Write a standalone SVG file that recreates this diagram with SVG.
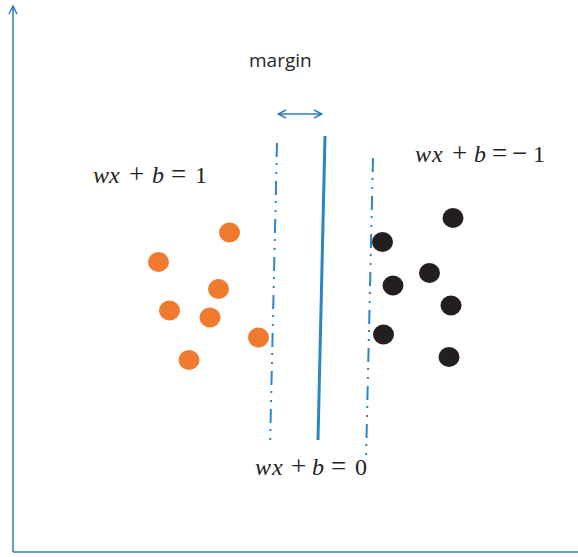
<svg xmlns="http://www.w3.org/2000/svg" width="578" height="557" viewBox="0 0 578 557">
<style>
.ax{stroke:#2e7dc0;stroke-width:1.5;fill:none}
.dd{stroke:#2a86c8;stroke-width:2;fill:none;stroke-dasharray:14 6 2 7 2 7}
.sol{stroke:#2a86c8;stroke-width:3;fill:none}
.o{fill:#f07a2e}
.k{fill:#231f20}
.m{font-family:"Liberation Serif","DejaVu Serif",serif;font-size:24px;fill:#222}
.i{font-style:italic}
.op{font-size:27px}
.lbl{font-family:"Open Sans","Liberation Sans",sans-serif;font-size:19px;fill:#262626}
</style>
<defs>
<marker id="oa" viewBox="0 0 10 10" refX="9" refY="5" markerWidth="10" markerHeight="10" markerUnits="userSpaceOnUse" orient="auto-start-reverse">
<path d="M1,1 L9,5 L1,9" fill="none" stroke="#2e7dc0" stroke-width="1.5"/>
</marker>
</defs>
<g id="axes">
<path class="ax" d="M13,552 L13,6" marker-end="url(#oa)"/>
<path class="ax" d="M13,552 L578,552"/>
</g>
<g id="connectors">
<path class="ax" d="M278,114 L322,114" marker-start="url(#oa)" marker-end="url(#oa)"/>
<path class="dd" d="M277,143 L270,447"/>
<path class="sol" d="M325,136 L318,440"/>
<path class="dd" d="M373,158 L366,460"/>
</g>
<g id="orange">
<ellipse class="o" cx="229.5" cy="232.5" rx="10.5" ry="10"/>
<ellipse class="o" cx="158.5" cy="262" rx="10.5" ry="10"/>
<ellipse class="o" cx="218.5" cy="289" rx="10.5" ry="10"/>
<ellipse class="o" cx="169.5" cy="310.5" rx="10.5" ry="10"/>
<ellipse class="o" cx="210" cy="317.5" rx="10.5" ry="10"/>
<ellipse class="o" cx="258.5" cy="337.5" rx="10.5" ry="10"/>
<ellipse class="o" cx="189" cy="360" rx="10.5" ry="10"/>
</g>
<g id="black">
<ellipse class="k" cx="453" cy="218" rx="10.5" ry="10"/>
<ellipse class="k" cx="382.5" cy="242" rx="10.5" ry="10"/>
<ellipse class="k" cx="429.5" cy="273" rx="10.5" ry="10"/>
<ellipse class="k" cx="393" cy="285.5" rx="10.5" ry="10"/>
<ellipse class="k" cx="451" cy="305.5" rx="10.5" ry="10"/>
<ellipse class="k" cx="383.5" cy="334.5" rx="10.5" ry="10"/>
<ellipse class="k" cx="449" cy="357" rx="10.5" ry="10"/>
</g>
<g id="label-margin">
<text class="lbl" x="249" y="67">margin</text>
</g>
<g id="eq-plus1">
<text class="m" y="183"><tspan class="i" x="93">w</tspan><tspan class="i" x="109">x</tspan><tspan class="op" x="129">+</tspan><tspan class="i" x="152">b</tspan><tspan class="op" x="171">=</tspan><tspan x="195">1</tspan></text>
</g>
<g id="eq-minus1">
<text class="m" y="162"><tspan class="i" x="415">w</tspan><tspan class="i" x="432">x</tspan><tspan class="op" x="452">+</tspan><tspan class="i" x="474">b</tspan><tspan class="op" x="492">=</tspan><tspan class="op" x="512">−</tspan><tspan x="533">1</tspan></text>
</g>
<g id="eq-zero">
<text class="m" y="475"><tspan class="i" x="255">w</tspan><tspan class="i" x="272">x</tspan><tspan class="op" x="291">+</tspan><tspan class="i" x="312">b</tspan><tspan class="op" x="331">=</tspan><tspan x="355">0</tspan></text>
</g>
</svg>
